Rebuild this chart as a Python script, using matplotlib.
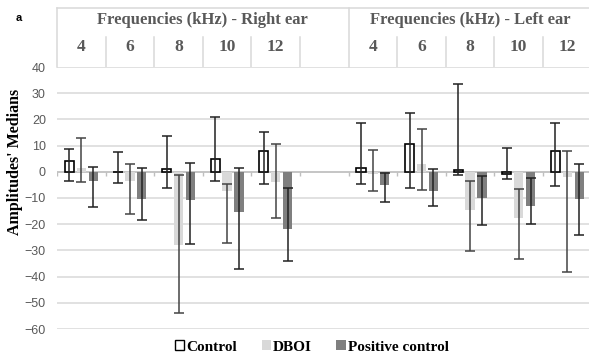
import matplotlib
matplotlib.use('Agg')
import matplotlib.pyplot as plt
from matplotlib.patches import Patch
import numpy as np

# frequencies (kHz); index 5 is the empty column between the two ears
freq_labels = ['4', '6', '8', '10', '12', '', '4', '6', '8', '10', '12']
right_pos = [0, 1, 2, 3, 4]
left_pos = [6, 7, 8, 9, 10]

# medians, and low / high ends of the error bars (right ear then left ear)
control = [4, 0, 1, 5, 8, 1.5, 10.5, 0.7, -1, 8]
control_lo = [-3.5, -4.2, -6, -3.4, -4.5, -4.6, -6, -1.3, -2.8, -5.5]
control_hi = [8.6, 7.4, 13.6, 20.8, 15.2, 18.7, 22.6, 33.4, 9.2, 18.7]

dboi = [1.5, -3.6, -28, -7.3, -3.8, -1, 2.8, -14.4, -17.5, -1.9]
dboi_lo = [-3.8, -16.2, -53.8, -27.1, -17.8, -7.3, -7, -30.4, -33.4, -38.2]
dboi_hi = [12.8, 2.8, -1.3, -4.8, 10.5, 8.2, 16.5, -3.6, -6.6, 8]

pos_ctrl = [-3.6, -10.3, -10.8, -15.5, -21.9, -5.1, -7.4, -9.9, -13.1, -10.4]
pos_ctrl_lo = [-13.4, -18.5, -27.6, -37, -34, -11.6, -13.1, -20.3, -20, -24]
pos_ctrl_hi = [1.9, 1.5, 3.5, 1.5, -6, -0.4, 1.2, -1.5, -2.2, 2.9]

W, H = 589, 357
fig = plt.figure(figsize=(W / 100, H / 100), dpi=100)

grid_col = '#d9d9d9'
text_col = '#595959'
serif = 'Liberation Serif'

x0, x_end = 57, 589
cat_w = 48.6
top, bottom = 67, 329
ax = fig.add_axes([x0 / W, 1 - bottom / H, (x_end - x0) / W, (bottom - top) / H])
xmax = -0.5 + (x_end - x0) / cat_w
ax.set_xlim(-0.5, xmax)
ax.set_ylim(-60, 40)

pos = np.array(right_pos + left_pos)
bw = 0.19
off = 0.245

series = [
    (control, control_lo, control_hi, -off, dict(color='white', edgecolor='black', linewidth=1.2), '#222222'),
    (dboi, dboi_lo, dboi_hi, 0, dict(color='#d9d9d9'), '#444444'),
    (pos_ctrl, pos_ctrl_lo, pos_ctrl_hi, off, dict(color='#7f7f7f'), '#222222'),
]
for vals, lo, hi, dx, style, ecol in series:
    v = np.array(vals, dtype=float)
    ax.bar(pos + dx, v, width=bw, zorder=3, **style)
    yerr = [v - np.array(lo), np.array(hi) - v]
    ax.errorbar(pos + dx, v, yerr=yerr, fmt='none', ecolor=ecol,
                elinewidth=1.1, capsize=3.5, capthick=1.1, zorder=4)

# gridlines and the zero axis with its small category ticks
ax.set_yticks(np.arange(-60, 41, 10))
ax.yaxis.grid(True, color=grid_col, linewidth=1.1)
ax.set_axisbelow(True)
ax.axhline(0, color='#bfbfbf', linewidth=1.1, zorder=2)
bounds = np.arange(-0.5, xmax, 1.0)
ax.vlines(bounds, -1.6, 0, color='#bfbfbf', linewidth=1.0, zorder=2)
ax.set_xticks([])
for s in ax.spines.values():
    s.set_visible(False)
ax.tick_params(axis='y', length=0, pad=8, labelsize=9, labelcolor=text_col)
for lab in ax.get_yticklabels():
    lab.set_fontfamily('Liberation Sans')

# header table with the frequencies
hax = fig.add_axes([x0 / W, 1 - top / H, (x_end - x0) / W, (top - 8) / H])
hax.set_xlim(-0.5, xmax)
hax.set_ylim(0, 1)
hax.axis('off')
hax.plot([-0.5, xmax], [1, 1], color=grid_col, lw=1.1, clip_on=False)
hax.plot([-0.5, -0.5], [0, 1], color=grid_col, lw=1.1, clip_on=False)
hax.plot([5.5, 5.5], [0, 1], color=grid_col, lw=1.1, clip_on=False)
mid = (67 - 37) / (67 - 8)
for b in [0.5, 1.5, 2.5, 3.5, 4.5, 6.5, 7.5, 8.5, 9.5]:
    hax.plot([b, b], [0, mid], color=grid_col, lw=1.1)
ty = (67 - 20) / (67 - 8)
ny = (67 - 47) / (67 - 8)
hax.text(2.5, ty, 'Frequencies (kHz) - Right ear', ha='center', va='center',
         fontsize=12, fontweight='bold', family=serif, color=text_col)
hax.text(8.0, ty, 'Frequencies (kHz) - Left ear', ha='center', va='center',
         fontsize=12, fontweight='bold', family=serif, color=text_col)
for i, lab in enumerate(freq_labels):
    hax.text(i, ny, lab, ha='center', va='center', fontsize=12.5,
             fontweight='bold', family=serif, color=text_col)

fig.text(15 / W, 1 - 162 / H, "Amplitudes' Medians", rotation=90, ha='center',
         va='center', fontsize=11.5, fontweight='bold', family=serif)
fig.text(19 / W, 1 - 18 / H, 'a', ha='center', va='center', fontsize=8,
         fontweight='bold', family='Liberation Sans')

handles = [Patch(facecolor='white', edgecolor='black', linewidth=1.0),
           Patch(facecolor='#d9d9d9'), Patch(facecolor='#7f7f7f')]
fig.legend(handles, ['Control', 'DBOI', 'Positive control'], loc='center',
           bbox_to_anchor=(312 / W, 1 - 347 / H), ncol=3, frameon=False,
           handlelength=0.6, handleheight=0.6, handletextpad=0.15,
           columnspacing=1.6, prop={'family': serif, 'weight': 'bold', 'size': 11})

fig.savefig('out.png', dpi=100)
